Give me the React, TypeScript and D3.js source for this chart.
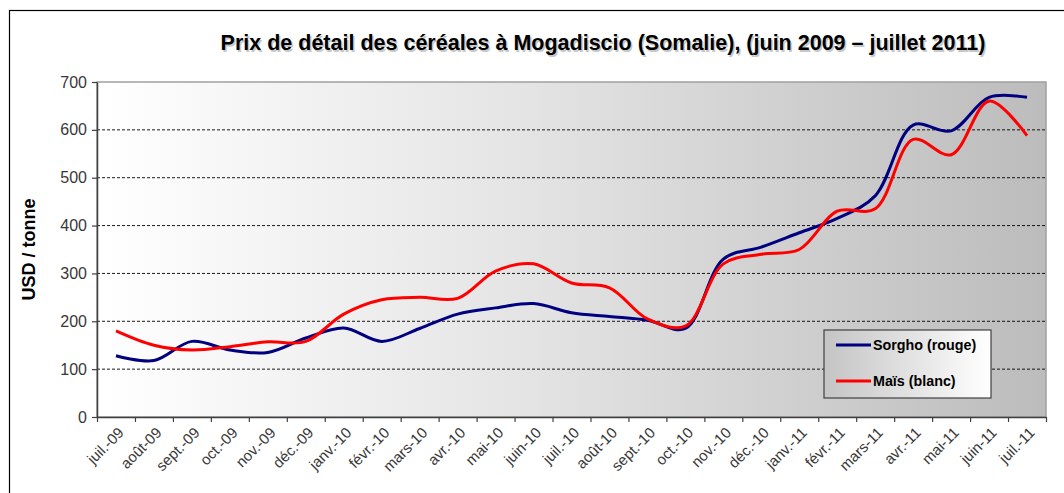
import React, { useEffect, useRef } from 'react';
import * as d3 from 'd3';

// months on the x axis
const months = [
  'juil.-09', 'août-09', 'sept.-09', 'oct.-09', 'nov.-09', 'déc.-09',
  'janv.-10', 'févr.-10', 'mars-10', 'avr.-10', 'mai-10', 'juin-10',
  'juil.-10', 'août-10', 'sept.-10', 'oct.-10', 'nov.-10', 'déc.-10',
  'janv.-11', 'févr.-11', 'mars-11', 'avr.-11', 'mai-11', 'juin-11', 'juil.-11'
];

// USD / tonne
const sorgho = [128, 118, 158, 140, 135, 165, 186, 158, 185, 215, 228, 237, 218, 210, 202, 185, 330, 355, 385, 415, 462, 610, 598, 668, 668];
const mais = [180, 150, 140, 147, 157, 158, 215, 245, 250, 248, 305, 320, 280, 270, 205, 190, 320, 340, 350, 430, 435, 580, 548, 660, 588];

const yTicks = [0, 100, 200, 300, 400, 500, 600, 700];

const series = [
  { name: 'Sorgho (rouge)', values: sorgho, color: '#000080' },
  { name: 'Maïs (blanc)', values: mais, color: '#ff0000' }
];

const W = 1064, H = 493;
const margin = { top: 82, right: 18, bottom: 76, left: 97 };
const font = 'Liberation Sans, Arial, sans-serif';

function App() {
  const ref = useRef<SVGSVGElement>(null);

  useEffect(() => {
    if (!ref.current) return;
    const svg = d3.select(ref.current);
    svg.selectAll('*').remove();

    const x0 = margin.left, x1 = W - margin.right;
    const y0 = H - margin.bottom, y1 = margin.top;

    const x = d3.scaleBand().domain(months).range([x0, x1]).paddingInner(0);
    const xi = d3.scaleLinear().domain([0, months.length]).range([x0, x1]);
    const y = d3.scaleLinear().domain([0, 700]).range([y0, y1]);

    const defs = svg.append('defs');
    const bg = defs.append('linearGradient').attr('id', 'plotbg')
      .attr('x1', '0%').attr('x2', '100%').attr('y1', '0%').attr('y2', '0%');
    bg.append('stop').attr('offset', '0%').attr('stop-color', '#ffffff');
    bg.append('stop').attr('offset', '45%').attr('stop-color', '#e4e4e4');
    bg.append('stop').attr('offset', '100%').attr('stop-color', '#bcbcbc');
    const lg = defs.append('linearGradient').attr('id', 'legbg')
      .attr('x1', '0%').attr('x2', '100%').attr('y1', '0%').attr('y2', '0%');
    lg.append('stop').attr('offset', '0%').attr('stop-color', '#c4c4c4');
    lg.append('stop').attr('offset', '100%').attr('stop-color', '#ffffff');

    // outer frame
    svg.append('rect').attr('x', 9.5).attr('y', 10.5).attr('width', W).attr('height', H)
      .attr('fill', '#fff').attr('stroke', '#000').attr('stroke-width', 1.2);

    // plot area
    svg.append('rect').attr('x', x0).attr('y', y1).attr('width', x1 - x0).attr('height', y0 - y1)
      .attr('fill', 'url(#plotbg)').attr('stroke', '#a0a0a0').attr('stroke-width', 1.5);

    // grid lines
    svg.append('g').selectAll('line')
      .data(yTicks.filter(d => d > 0 && d < 700))
      .join('line')
      .attr('x1', x0).attr('x2', x1)
      .attr('y1', d => y(d)).attr('y2', d => y(d))
      .attr('stroke', '#000').attr('stroke-width', 0.9).attr('stroke-dasharray', '3,2');

    // y axis
    const gy = svg.append('g').attr('transform', 'translate(' + x0 + ',0)')
      .call(d3.axisLeft(y).tickValues(yTicks).tickSize(5).tickPadding(5).tickSizeOuter(0));
    gy.select('.domain').attr('stroke', '#404040').attr('stroke-width', 1.5);
    gy.selectAll('.tick line').attr('stroke', '#404040').attr('stroke-width', 1.2);
    gy.selectAll('.tick text')
      .attr('fill', '#383838').style('font-family', font).style('font-size', '16px');

    // x axis ticks at month boundaries
    const gx = svg.append('g').attr('transform', 'translate(0,' + y0 + ')')
      .call(d3.axisBottom(xi).tickValues(d3.range(months.length + 1)).tickFormat(() => '').tickSize(5).tickSizeOuter(0));
    gx.select('.domain').attr('stroke', '#404040').attr('stroke-width', 1.5);
    gx.selectAll('.tick line').attr('stroke', '#404040').attr('stroke-width', 1.2);

    // rotated month labels
    svg.append('g').selectAll('text')
      .data(months)
      .join('text')
      .attr('transform', d => 'translate(' + (x(d)! + x.bandwidth() / 2 + 5) + ',' + (y0 + 13) + ') rotate(-45)')
      .attr('text-anchor', 'end')
      .attr('dy', '0.35em')
      .attr('fill', '#383838')
      .style('font-family', font)
      .style('font-size', '15px')
      .text(d => d);

    // smoothed lines
    const line = d3.line<number>()
      .x((d, i) => x(months[i])! + x.bandwidth() / 2)
      .y(d => y(d))
      .curve(d3.curveCatmullRom.alpha(0.5));

    svg.append('g').selectAll('path')
      .data(series)
      .join('path')
      .attr('d', d => line(d.values))
      .attr('fill', 'none')
      .attr('stroke', d => d.color)
      .attr('stroke-width', 3)
      .attr('stroke-linejoin', 'round');

    // title (with a faint shadow)
    const title = 'Prix de détail des céréales à Mogadiscio (Somalie), (juin 2009 – juillet 2011)';
    [{ dx: 1.5, c: '#c8c8c8' }, { dx: 0, c: '#000' }].forEach(t => {
      svg.append('text')
        .attr('x', 603 + t.dx).attr('y', 50 + t.dx)
        .attr('text-anchor', 'middle')
        .style('font-family', font)
        .style('font-weight', 'bold')
        .style('font-size', '21.5px')
        .attr('fill', t.c)
        .text(title);
    });

    // y label
    svg.append('text')
      .attr('transform', 'translate(35,' + ((y0 + y1) / 2) + ') rotate(-90)')
      .attr('text-anchor', 'middle')
      .style('font-family', font)
      .style('font-weight', 'bold')
      .style('font-size', '18px')
      .text('USD / tonne');

    // legend
    const leg = svg.append('g').attr('transform', 'translate(824,330)');
    leg.append('rect').attr('width', 167).attr('height', 68)
      .attr('fill', 'url(#legbg)').attr('stroke', '#404040').attr('stroke-width', 1.2);
    const item = leg.selectAll('g.item')
      .data(series)
      .join('g')
      .attr('class', 'item')
      .attr('transform', (d, i) => 'translate(0,' + (15 + i * 36) + ')');
    item.append('line').attr('x1', 12).attr('x2', 47).attr('y1', 0).attr('y2', 0)
      .attr('stroke', d => d.color).attr('stroke-width', 3);
    item.append('text').attr('x', 49).attr('dy', '0.35em')
      .style('font-family', font)
      .style('font-weight', 'bold')
      .style('font-size', '14.3px')
      .text(d => d.name);
  }, []);

  return (
    <svg ref={ref} width={W} height={H} style={{ position: 'absolute', left: 0, top: 0, background: '#fff' }}></svg>
  );
}

export default App;
